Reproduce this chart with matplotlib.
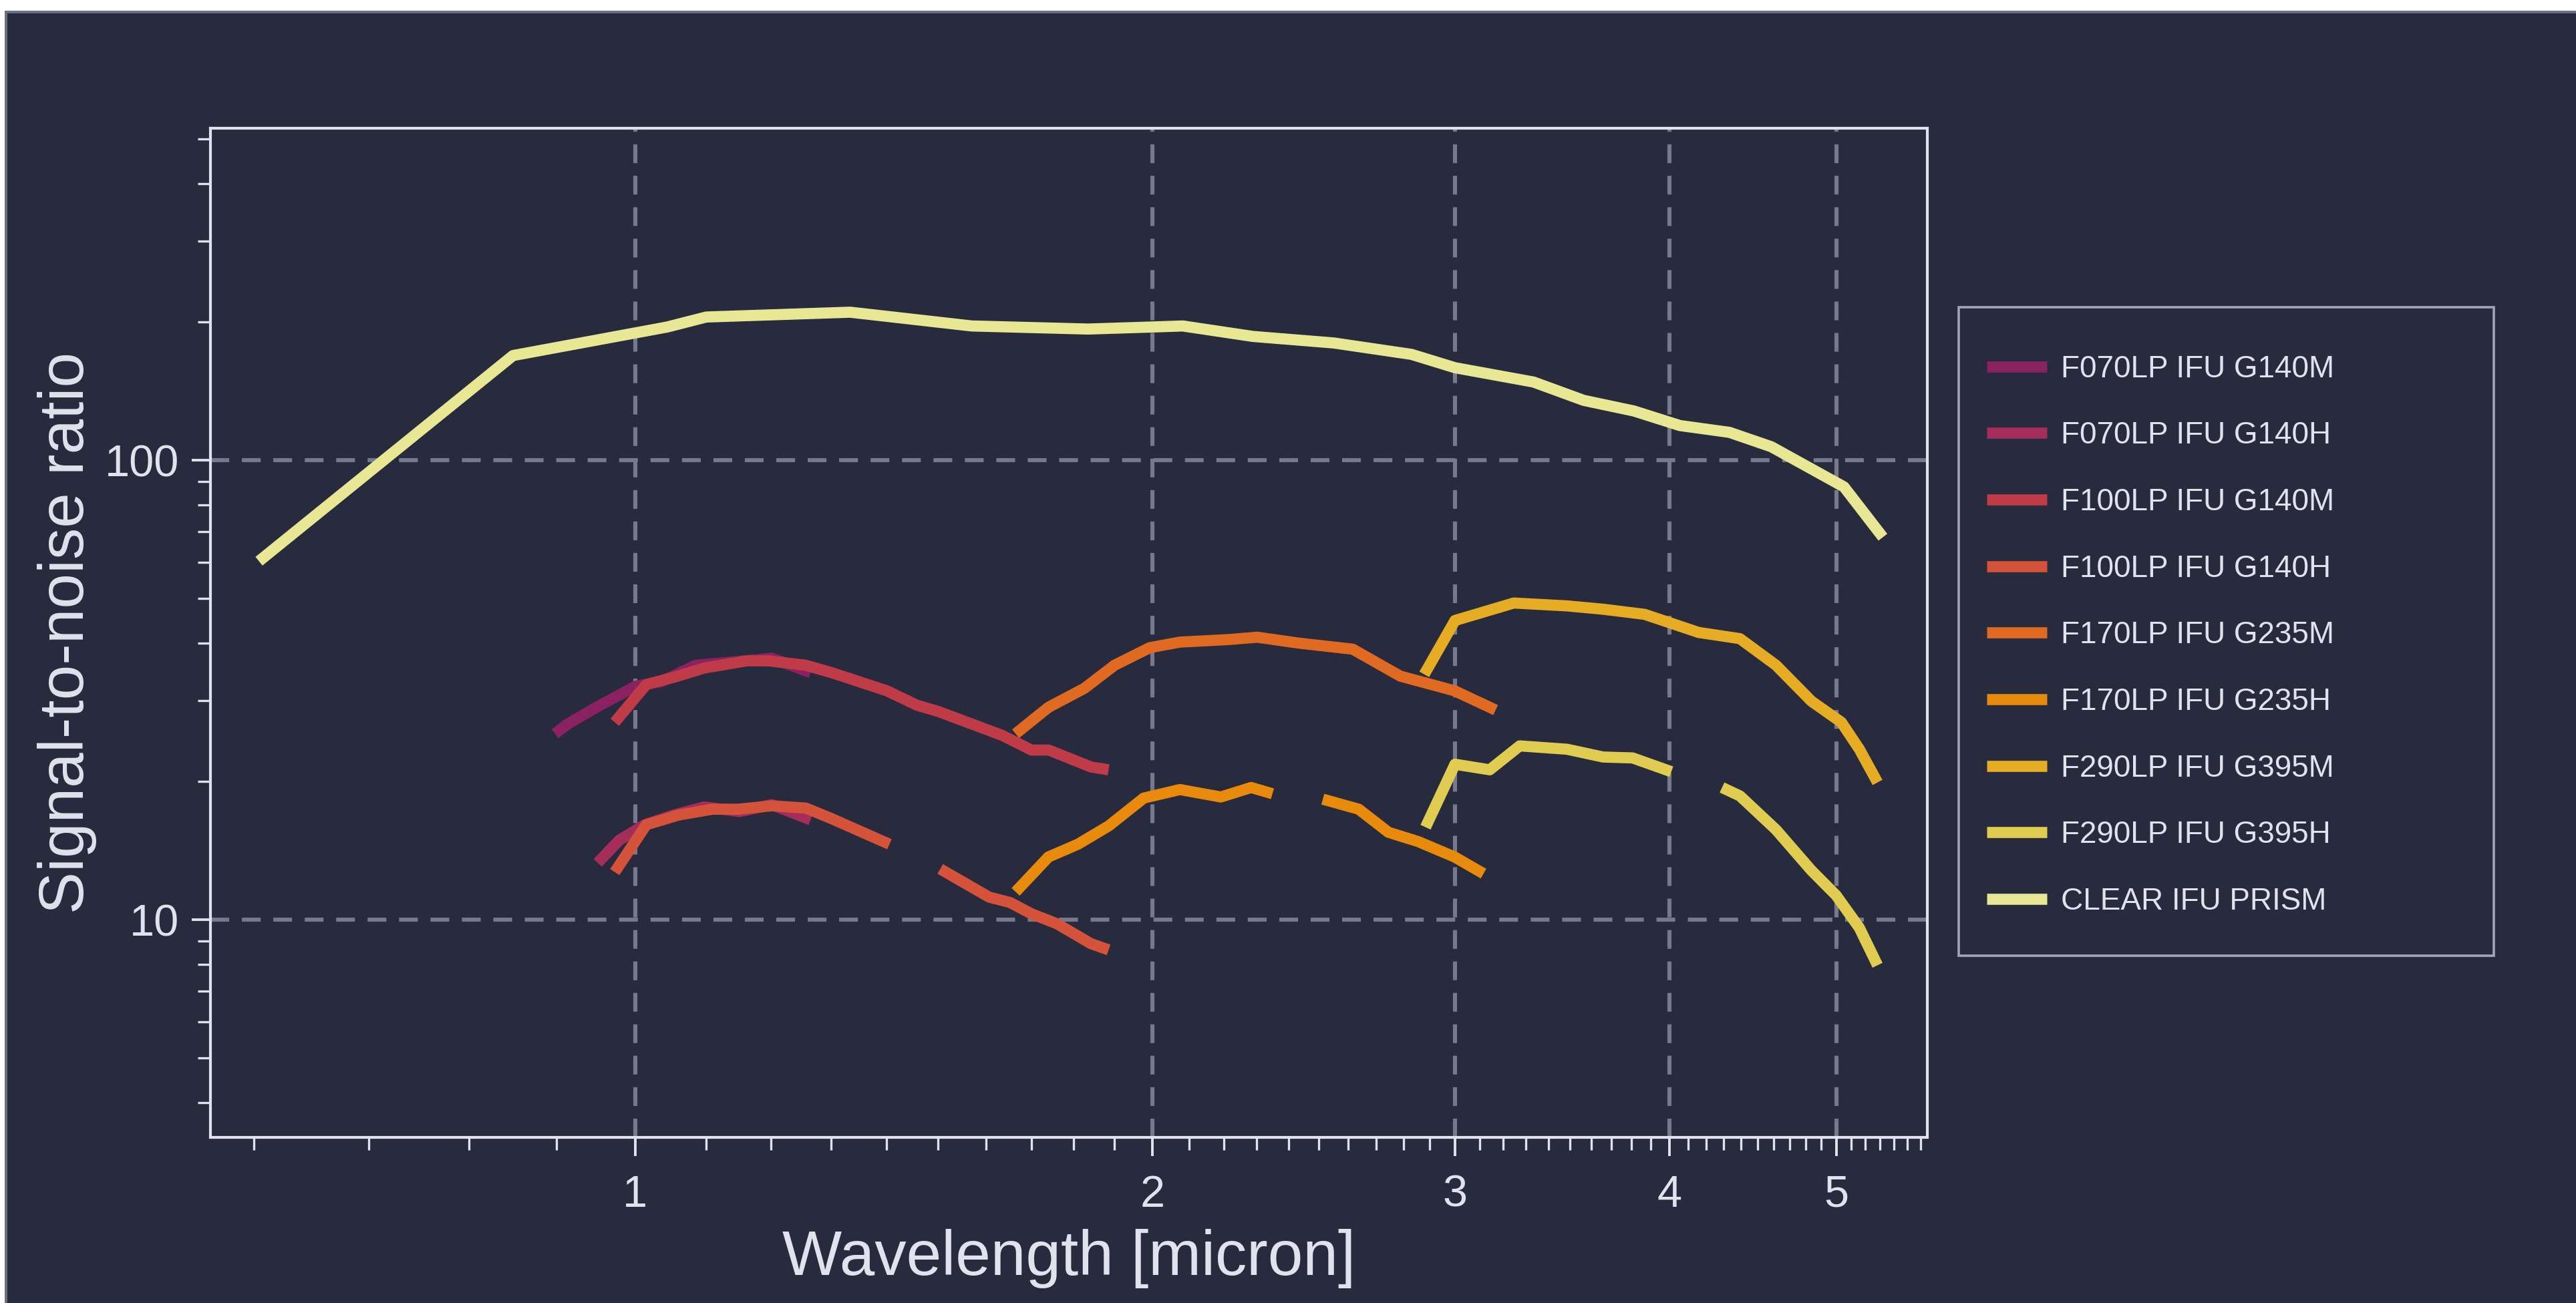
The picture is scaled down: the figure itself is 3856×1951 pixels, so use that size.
import matplotlib
matplotlib.use("Agg")
import matplotlib.pyplot as plt
import numpy as np
from matplotlib.ticker import FixedLocator, NullFormatter, LogLocator, FuncFormatter
from matplotlib.patches import Rectangle

nan = np.nan

# Signal-to-noise curves (wavelength in micron)
labels = ["F070LP IFU G140M", "F070LP IFU G140H", "F100LP IFU G140M", "F100LP IFU G140H",
          "F170LP IFU G235M", "F170LP IFU G235H", "F290LP IFU G395M", "F290LP IFU G395H",
          "CLEAR IFU PRISM"]

f070_g140m_wl = [0.898, 0.914, 0.951, 1.0, 1.036, 1.084, 1.15, 1.201, 1.265]
f070_g140m_snr = [25.4, 26.7, 29.1, 32.2, 33.0, 35.8, 36.5, 37.1, 34.5]

f070_g140h_wl = [0.951, 0.979, 1.013, 1.053, 1.097, 1.15, 1.201, 1.265]
f070_g140h_snr = [13.3, 14.9, 16.1, 16.9, 17.6, 17.2, 17.8, 16.5]

f100_g140m_wl = [0.973, 1.015, 1.053, 1.097, 1.161, 1.195, 1.257, 1.301, 1.401, 1.459,
                 1.501, 1.635, 1.701, 1.741, 1.842, 1.886]
f100_g140m_snr = [26.9, 32.5, 33.7, 35.3, 36.6, 36.6, 35.8, 34.5, 31.5, 29.3,
                  28.4, 25.2, 23.4, 23.4, 21.5, 21.2]

f100_g140h_wl = [0.973, 1.015, 1.060, 1.109, 1.148, 1.201, 1.257, 1.301, 1.406, nan,
                 1.505, 1.607, 1.653, 1.701, 1.760, 1.842, 1.886]
f100_g140h_snr = [12.7, 16.1, 16.9, 17.4, 17.4, 17.7, 17.5, 16.6, 14.6, nan,
                  12.9, 11.2, 10.9, 10.3, 9.8, 8.87, 8.6]

f170_g235m_wl = [1.665, 1.740, 1.826, 1.901, 1.993, 2.075, 2.211, 2.302, 2.433, 2.616,
                 2.788, 2.998, 3.168]
f170_g235m_snr = [25.4, 29.0, 31.9, 35.8, 39.1, 40.2, 40.7, 41.2, 40.0, 38.8,
                  33.9, 31.5, 28.6]

f170_g235h_wl = [1.665, 1.740, 1.810, 1.886, 1.977, 2.075, 2.192, 2.283, 2.349, nan,
                 2.513, 2.637, 2.744, 2.855, 2.998, 3.117]
f170_g235h_snr = [11.5, 13.7, 14.6, 16.0, 18.4, 19.2, 18.5, 19.4, 18.8, nan,
                  18.3, 17.4, 15.5, 14.8, 13.7, 12.6]

f290_g395m_wl = [2.879, 3.0, 3.246, 3.486, 3.659, 3.868, 4.158, 4.395, 4.613, 4.837,
                 5.035, 5.158, 5.285]
f290_g395m_snr = [34.2, 44.8, 48.9, 48.2, 47.4, 46.2, 42.2, 40.9, 35.8, 29.9,
                  26.9, 23.5, 19.9]

f290_g395h_wl = [2.884, 3.0, 3.143, 3.272, 3.486, 3.659, 3.806, 4.009, nan, 4.291,
                 4.395, 4.613, 4.837, 5.0, 5.158, 5.285]
f290_g395h_snr = [15.9, 21.8, 21.2, 23.9, 23.5, 22.6, 22.5, 21.0, nan, 19.4,
                  18.6, 15.7, 12.8, 11.3, 9.6, 7.96]

prism_wl = [0.604, 0.849, 1.044, 1.10, 1.334, 1.57, 1.835, 2.0, 2.083, 2.288, 2.55,
            2.83, 3.0, 3.333, 3.565, 3.813, 4.055, 4.334, 4.584, 5.053, 5.323]
prism_snr = [60.3, 169, 195, 205, 210, 196, 193, 195, 196, 186, 180,
             170, 159, 148, 135, 128, 119, 115, 107, 87.5, 68]

series = [(f070_g140m_wl, f070_g140m_snr), (f070_g140h_wl, f070_g140h_snr),
          (f100_g140m_wl, f100_g140m_snr), (f100_g140h_wl, f100_g140h_snr),
          (f170_g235m_wl, f170_g235m_snr), (f170_g235h_wl, f170_g235h_snr),
          (f290_g395m_wl, f290_g395m_snr), (f290_g395h_wl, f290_g395h_snr),
          (prism_wl, prism_snr)]

colors = ["#8a2262", "#a52d5a", "#bf3b48", "#d4533a", "#e06a22",
          "#e88a0c", "#e6ad24", "#e0cc50", "#e8e894"]

plt.rcParams['font.family'] = ['Liberation Sans', 'DejaVu Sans']

BG = "#282a3e"
FG = "#e2e2ee"
GRID = "#78788c"

fig = plt.figure(figsize=(19.28, 9.755), dpi=200, facecolor=BG)
ax = fig.add_axes([0.0817, 0.1271, 0.7482 - 0.0817, 0.9016 - 0.1271])
ax.set_facecolor(BG)

for (wl, snr), lab, c in zip(series, labels, colors):
    ax.plot(wl, snr, color=c, lw=6, label=lab,
            solid_capstyle='butt', solid_joinstyle='round')

ax.set_xscale('log')
ax.set_yscale('log')
ax.set_xlim(0.566, 5.65)
ax.set_ylim(3.36, 528)

fmt = FuncFormatter(lambda v, p: f"{v:g}")
ax.xaxis.set_major_locator(FixedLocator([1, 2, 3, 4, 5]))
ax.xaxis.set_major_formatter(fmt)
minor_x = [v for v in np.round(np.arange(0.6, 5.65, 0.1), 1) if v not in (1, 2, 3, 4, 5)]
ax.xaxis.set_minor_locator(FixedLocator(minor_x))
ax.xaxis.set_minor_formatter(NullFormatter())
ax.yaxis.set_major_locator(FixedLocator([10, 100]))
ax.yaxis.set_major_formatter(fmt)
ax.yaxis.set_minor_locator(LogLocator(base=10, subs=np.arange(2, 10)))
ax.yaxis.set_minor_formatter(NullFormatter())

ax.tick_params(which='major', length=10, width=1.4, color=FG, labelcolor=FG, labelsize=24)
ax.tick_params(which='minor', length=7, width=1.2, color=FG)
ax.tick_params(axis='x', which='major', pad=10)
ax.tick_params(axis='y', which='major', pad=7)
for s in ax.spines.values():
    s.set_color(FG)
    s.set_linewidth(1.5)

ax.grid(True, which='major', color=GRID, lw=2.2, linestyle=(0, (4.6, 3.1)))
ax.set_axisbelow(True)

ax.set_xlabel("Wavelength [micron]", fontsize=34, color=FG, labelpad=7)
ax.set_ylabel("Signal-to-noise ratio", fontsize=34, color=FG, labelpad=4)

# legend, with its own frame drawn in figure coordinates
fig.patches.append(Rectangle((0.7604, 0.2665), 0.2077, 0.4977, transform=fig.transFigure,
                             fill=False, edgecolor="#a4a4b6", lw=1.3))
ax.legend(loc='upper left', bbox_to_anchor=(0.7713, 0.728), bbox_transform=fig.transFigure,
          frameon=False, fontsize=16.5, labelcolor=FG, borderpad=0, borderaxespad=0,
          labelspacing=1.215, handlelength=1.95, handletextpad=0.46)

# screenshot edges: white strip on top/left, grey border
fig.patches.append(Rectangle((0, 1 - 16 / 1951), 1, 16 / 1951, transform=fig.transFigure,
                             color='white', lw=0))
fig.patches.append(Rectangle((0, 1 - 20 / 1951), 1, 4 / 1951, transform=fig.transFigure,
                             color='#6e6e82', lw=0))
fig.patches.append(Rectangle((0, 0), 7 / 3856, 1, transform=fig.transFigure,
                             color='white', lw=0))
fig.patches.append(Rectangle((7 / 3856, 0), 4 / 3856, 1 - 16 / 1951, transform=fig.transFigure,
                             color='#6e6e82', lw=0))

fig.savefig("out.png", dpi=200, facecolor=BG)
